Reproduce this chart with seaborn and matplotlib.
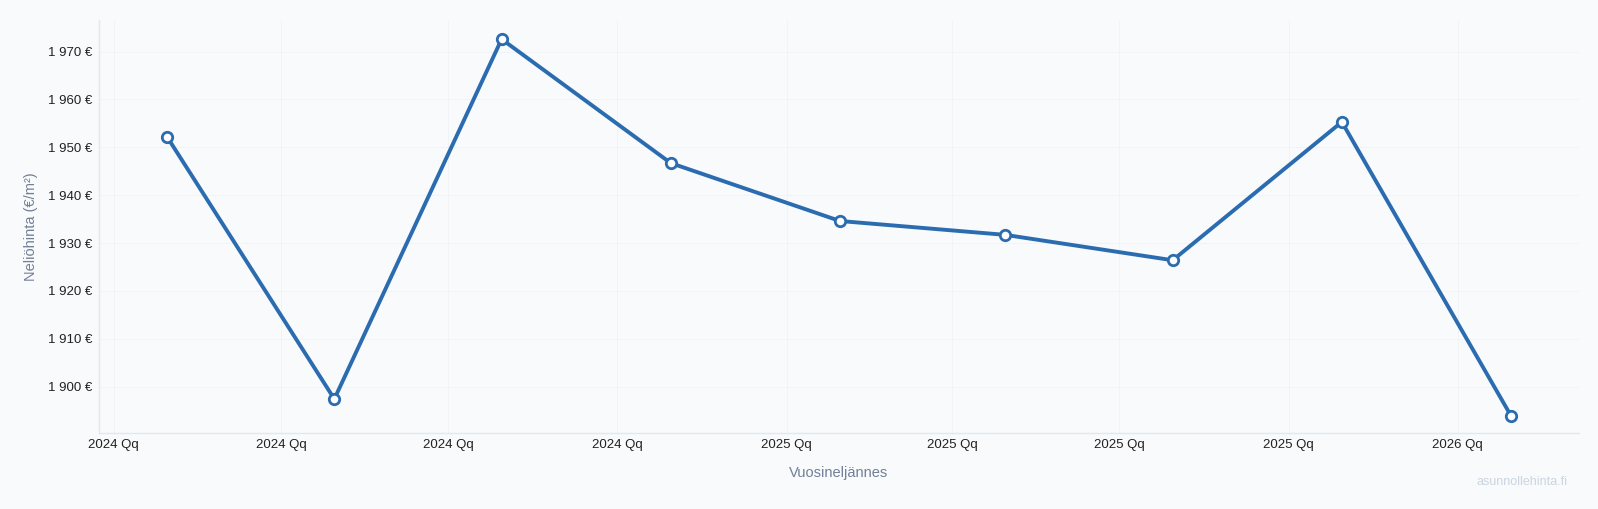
import matplotlib
matplotlib.use("Agg")
import matplotlib.pyplot as plt
import matplotlib.ticker as mticker
import seaborn as sns
import pandas as pd

# Data
dates = ["2024-01-30", "2024-04-30", "2024-07-30", "2024-10-30",
         "2025-01-30", "2025-04-30", "2025-07-30", "2025-10-30", "2026-01-30"]
prices = [1952.2, 1897.4, 1972.6, 1946.7, 1934.6, 1931.7, 1926.4, 1955.3, 1893.9]
tick_dates = ["2024-01-01", "2024-04-01", "2024-07-01", "2024-10-01",
              "2025-01-01", "2025-04-01", "2025-07-01", "2025-10-01", "2026-01-01"]
tick_labels = ["2024 Qq", "2024 Qq", "2024 Qq", "2024 Qq",
               "2025 Qq", "2025 Qq", "2025 Qq", "2025 Qq", "2026 Qq"]
y_ticks = [1900, 1910, 1920, 1930, 1940, 1950, 1960, 1970]

df = pd.DataFrame({"date": pd.to_datetime(dates), "price": prices})

sns.set_style("white")
plt.rcParams["font.family"] = ["Liberation Sans", "DejaVu Sans"]

bg = "#f8fafc"
line_color = "#2b6cb0"

fig = plt.figure(figsize=(15.98, 5.09), dpi=100, facecolor=bg)
ax = fig.add_axes([99 / 1598, 1 - 433 / 509, (1579 - 99) / 1598, (433 - 20) / 509])
ax.set_facecolor(bg)

sns.lineplot(data=df, x="date", y="price", ax=ax, color=line_color, linewidth=2.8,
             marker="o", markersize=7.5, markerfacecolor="white",
             markeredgecolor=line_color, markeredgewidth=2.0, zorder=3)

ax.set_xlim(pd.Timestamp("2023-12-24"), pd.Timestamp("2026-03-08"))
ax.set_ylim(1890.3, 1976.6)

ax.set_xticks(pd.to_datetime(tick_dates))
ax.set_xticklabels(tick_labels)
ax.set_yticks(y_ticks)
ax.yaxis.set_major_formatter(mticker.FuncFormatter(
    lambda v, p: f"{int(round(v)):,}".replace(",", " ") + " €"))

ax.tick_params(axis="both", length=0, labelsize=9.5, labelcolor="#222222")
ax.tick_params(axis="x", pad=4)
ax.tick_params(axis="y", pad=5)

ax.grid(True, color="#f0f3f7", linewidth=0.7)
for s in ["top", "right"]:
    ax.spines[s].set_visible(False)
for s in ["left", "bottom"]:
    ax.spines[s].set_color("#e2e8f0")
    ax.spines[s].set_linewidth(1.0)

ax.set_xlabel("Vuosineljännes", fontsize=10.5, color="#718096", labelpad=11)
ax.set_ylabel("Neliöhinta (€/m²)", fontsize=10.5, color="#718096", labelpad=7)

fig.text(1522 / 1598, 1 - 482 / 509, "asunnollehinta.fi", fontsize=9,
         color="#cbd5e0", ha="center", va="center")

fig.savefig("out.png", dpi=100, facecolor=bg)
